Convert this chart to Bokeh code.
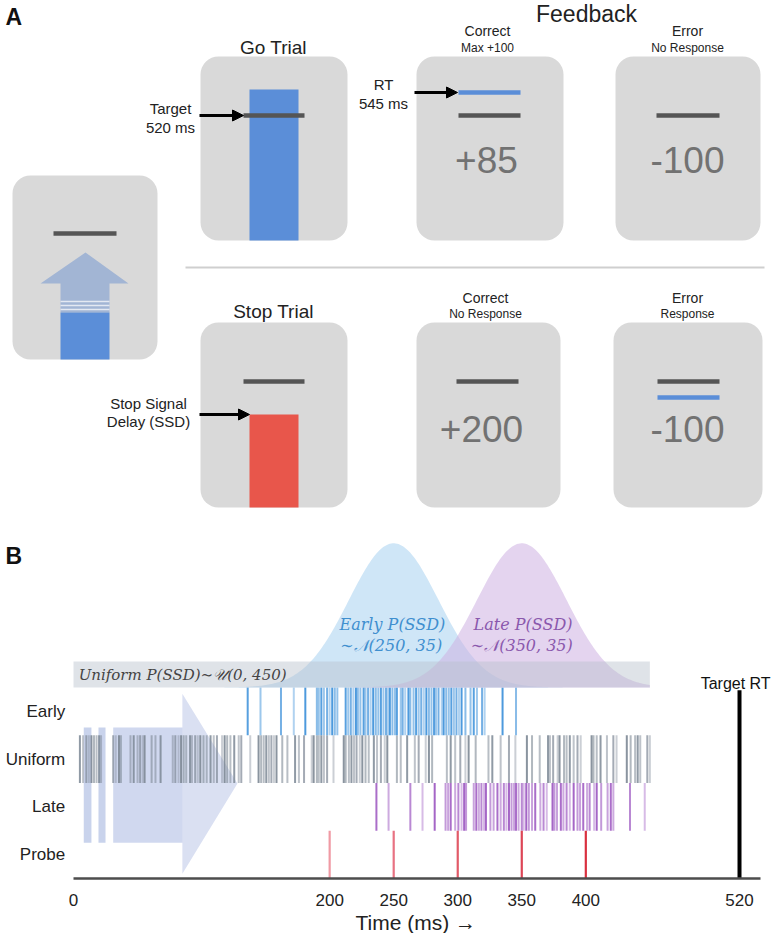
import numpy as np
from bokeh.plotting import figure
from bokeh.models import Range1d, Arrow, NormalHead, FixedTicker, ColumnDataSource, Title
from bokeh.layouts import column
from bokeh.embed import file_html
from bokeh.resources import INLINE
from bokeh.core.properties import value

# ---------------- Panel B data (ms) ----------------
early_ssd = [136, 146, 162, 172, 181, 190, 191.5, 193.5, 195.5, 198, 200, 202, 204, 206,
             212.5, 214.5, 216.5, 218.5, 220.5, 222, 224, 226.5, 228, 230, 232, 234, 236, 238,
             240, 242, 244, 245.5, 247, 249, 251, 252.5, 255.5, 257, 259, 261.5, 263, 265.5,
             267.5, 269.5, 271.5, 273.5, 275.5, 277.5, 279.5, 281.5, 283, 285, 287.5, 289, 291,
             293, 295, 297, 299, 301, 303, 306, 310, 312.5, 315, 319, 321, 335, 345.5]
uniform_ssd = [5, 7.5, 10, 12, 14, 16, 18, 20, 21.5, 31, 33, 35.5, 37, 44.5, 47, 50, 52, 54,
               55.5, 61, 64, 68, 77.5, 79.5, 82, 84, 86, 88, 91, 92.5, 95, 97, 99, 101.5, 104,
               107, 109.5, 112, 116, 118, 120, 122.5, 125.5, 129, 131, 138, 144.5, 146.5, 148.5,
               150.5, 152.5, 154.5, 156.5, 158.5, 163, 167, 173, 176, 180, 186, 187.5, 190, 191.5,
               193.5, 195.5, 198, 203, 211, 212.5, 215, 217, 219, 221, 223.5, 225.5, 228, 230.5,
               234.5, 237, 240, 243, 245, 252.5, 255.5, 260.5, 266.5, 269.5, 275, 277.5, 280,
               291.5, 294.5, 298, 302, 306, 308.5, 314, 324, 327, 333.5, 340, 345, 354, 358, 364,
               370.5, 372, 374.5, 378, 379.5, 383, 385, 387.5, 390.5, 393.5, 396, 404.5, 406,
               408.5, 411.5, 416.5, 421.5, 424, 432, 435, 438.5, 440.5, 442.5, 448, 450]
late_ssd = [236.5, 246, 263, 272.5, 282, 290.5, 292.5, 294.5, 298, 300.5, 303, 305, 306.5,
            312.5, 314.5, 316.5, 318.5, 320.5, 322, 325.5, 328, 331, 333.5, 336, 338, 340, 342,
            344, 345.5, 347.5, 350, 351.5, 353.5, 355.5, 358, 360.5, 364.5, 367, 369.5, 374,
            375.5, 377.5, 380.5, 382.5, 385, 387.5, 390.5, 393.5, 395.5, 398, 401, 403, 406.5,
            408.5, 412, 417, 419.5, 421.5, 434.5, 446]
probe_ssd = [200, 250, 300, 350, 400]
target_rt = 520
early_mu, late_mu, ssd_sd = 250, 350, 35
uniform_max = 450
row_labels = ["Probe", "Late", "Uniform", "Early"]
x_ticks = [0, 200, 250, 300, 350, 400, 520]

# ---------------- Panel A schematic (page pixels) ----------------
FONT = value("Liberation Sans")
box_l = [12, 200, 416, 615, 200, 416, 613]
box_r = [157, 347, 563, 760, 347, 560, 762]
box_t = [175, 56, 56, 56, 322, 322, 322]
box_b = [359, 240, 240, 240, 507, 507, 507]

bar_l = [60, 249, 249]
bar_r = [109, 298, 298]
bar_t = [312, 89, 414]
bar_b = [359, 240, 507]
bar_c = ["#5b8ed8", "#5b8ed8", "#e8564b"]

hl_x0 = [53, 243, 458, 458, 656, 243, 456, 657, 657]
hl_x1 = [116, 304, 520, 520, 719, 304, 518, 719, 719]
hl_y = [233, 115, 115, 92, 115, 381, 381, 381, 397]
hl_c = ["#555555", "#555555", "#555555", "#5b8ed8", "#555555", "#555555", "#555555", "#555555", "#5b8ed8"]

arr_x0 = [199, 414, 199]
arr_x1 = [243, 457, 249]
arr_y = [115, 92, 414]

pa = figure(width=775, height=535, x_range=Range1d(0, 775), y_range=Range1d(535, 0),
            x_axis_type=None, y_axis_type=None, toolbar_location=None,
            output_backend="svg", min_border=0, outline_line_color=None)

pa.quad(left=box_l, right=box_r, top=box_t, bottom=box_b, fill_color="#d9d9d9",
        line_color=None, border_radius=18)
# up arrow in start screen
pa.patch(x=[85, 128, 109, 109, 60, 60, 40], y=[252, 283, 283, 312, 312, 283, 283],
         fill_color="#a2b5d4", line_color=None)
pa.segment(x0=[60, 60, 60], x1=[109, 109, 109], y0=[301, 305, 309], y1=[301, 305, 309],
           line_color="#e4e9f2", line_width=1.3)
pa.quad(left=bar_l, right=bar_r, top=bar_t, bottom=bar_b, fill_color=bar_c, line_color=None)
pa.segment(x0=hl_x0, x1=hl_x1, y0=hl_y, y1=hl_y, line_color=hl_c, line_width=4.5)
pa.segment(x0=[185], x1=[764], y0=[267], y1=[267], line_color="#cfcfcf", line_width=2)
for xs, xe, yy in zip(arr_x0, arr_x1, arr_y):
    pa.add_layout(Arrow(end=NormalHead(size=11, fill_color="black", line_color="black"),
                        x_start=xs, y_start=yy, x_end=xe, y_end=yy,
                        line_color="black", line_width=3))

def txt(p, x, y, s, size, color="#222222", align="center", style="normal", font=FONT):
    p.text(x=[x], y=[y], text=[s], text_align=align, text_baseline="middle",
           text_font=font, text_font_size=size, text_color=color, text_font_style=style)

txt(pa, 5, 16, "A", "23px", "#111111", "left", "bold")
txt(pa, 273, 47, "Go Trial", "19px")
txt(pa, 273, 311, "Stop Trial", "19px")
txt(pa, 586, 13, "Feedback", "23px")
txt(pa, 487, 30, "Correct", "14px")
txt(pa, 487, 47, "Max +100", "12px")
txt(pa, 687, 30, "Error", "14px")
txt(pa, 687, 47, "No Response", "12px")
txt(pa, 485, 297, "Correct", "14px")
txt(pa, 485, 313, "No Response", "12px")
txt(pa, 687, 297, "Error", "14px")
txt(pa, 687, 313, "Response", "12px")
txt(pa, 170, 108, "Target", "15px")
txt(pa, 170, 127, "520 ms", "15px")
txt(pa, 383, 84, "RT", "15px")
txt(pa, 383, 103, "545 ms", "15px")
txt(pa, 148, 403, "Stop Signal", "15px")
txt(pa, 148, 421, "Delay (SSD)", "15px")
txt(pa, 486, 159, "+85", "37px", "#727272")
txt(pa, 687, 159, "-100", "37px", "#727272")
txt(pa, 481, 428, "+200", "37px", "#727272")
txt(pa, 687, 428, "-100", "37px", "#727272")

# ---------------- Panel B ----------------
pb = figure(frame_width=775, frame_height=343, x_range=Range1d(-57.0, 548.1),
            y_range=Range1d(0, 7.183), y_axis_type=None, toolbar_location=None,
            output_backend="svg", min_border=0, outline_line_color=None)
pb.xgrid.visible = False

# fast-forward arrow (background, lighter towards the tip)
pb.quad(left=[8, 19.5], right=[14, 25], bottom=[0.75, 0.75], top=[3.16, 3.16],
        fill_color="#c9d3ec", line_color=None)
pb.quad(left=[31], right=[85.5], bottom=[0.75], top=[3.16],
        fill_color="#d0d8ef", line_color=None)
pb.patch(x=[85, 85, 128, 85], y=[3.87, 0.10, 1.99, 3.87],
         fill_color="#dae0f2", line_color=None)

alpha_cycle = [0.85, 0.5, 0.7, 0.4, 0.9, 0.6, 0.55]

def ticks(vals, row, color, width=2):
    a = [alpha_cycle[i % len(alpha_cycle)] for i in range(len(vals))]
    src = ColumnDataSource(dict(x=vals, y0=[row] * len(vals), y1=[row + 1] * len(vals), a=a))
    pb.segment(x0="x", x1="x", y0="y0", y1="y1", source=src, line_color=color,
               line_alpha="a", line_width=width)

ticks(uniform_ssd, 2, "#7d8895")
ticks(early_ssd, 3, "#3a8fd9")
ticks(late_ssd, 1, "#9b55c0")
probe_colors = ["#f09aa4", "#e87282", "#e25a68", "#dd4556", "#d9303f"]
pb.segment(x0=probe_ssd, x1=probe_ssd, y0=[0] * 5, y1=[1] * 5, line_color=probe_colors, line_width=2.2)
pb.segment(x0=[target_rt], x1=[target_rt], y0=[0], y1=[3.94], line_color="black", line_width=4)

# distributions
xs = np.linspace(0, uniform_max, 400)
amp, base = 3.02, 4.0
pb.varea(x=xs, y1=base, y2=base + amp * np.exp(-0.5 * ((xs - early_mu) / ssd_sd) ** 2),
         fill_color="#9fcdef", fill_alpha=0.5)
pb.varea(x=xs, y1=base, y2=base + amp * np.exp(-0.5 * ((xs - late_mu) / ssd_sd) ** 2),
         fill_color="#cdb0e2", fill_alpha=0.55)
pb.quad(left=[0], right=[uniform_max], bottom=[base], top=[4.545],
        fill_color="#b9c2cc", fill_alpha=0.45, line_color=None)

SERIF = value("DejaVu Serif")
txt(pb, 4, 4.27, "Uniform P(SSD)∼𝒰(0, 450)", "15px", "#444444", "left", "italic", SERIF)
txt(pb, 249, 5.32, "Early P(SSD)", "16px", "#3f8fcf", "center", "italic", SERIF)
txt(pb, 248, 4.88, "∼𝒩(250, 35)", "16px", "#3f8fcf", "center", "italic", SERIF)
txt(pb, 351, 5.32, "Late P(SSD)", "16px", "#8a58ad", "center", "italic", SERIF)
txt(pb, 350, 4.88, "∼𝒩(350, 35)", "16px", "#8a58ad", "center", "italic", SERIF)
txt(pb, 517, 4.08, "Target RT", "16px", "#111111")
txt(pb, -53, 6.76, "B", "23px", "#111111", "left", "bold")
for i, lab in enumerate(row_labels):
    txt(pb, -6.5, i + 0.5, lab, "17px", "#222222", "right")

ax = pb.xaxis[0]
ax.ticker = FixedTicker(ticks=x_ticks)
ax.bounds = (0, 536)
ax.axis_line_color = "#4d4d4d"
ax.axis_line_width = 2.5
ax.major_tick_line_color = None
ax.minor_tick_line_color = None
ax.major_label_text_font = "Liberation Sans"
ax.major_label_text_font_size = "17px"
ax.major_label_text_color = "#222222"
ax.major_label_standoff = 9

pb.add_layout(Title(text="Time (ms) →", align="left", offset=355, standoff=0,
                    text_font="Liberation Sans", text_font_size="21px",
                    text_font_style="normal", text_color="#222222"), "below")

layout = column(pa, pb, spacing=0)
open("out.html", "w").write(file_html(layout, INLINE))
